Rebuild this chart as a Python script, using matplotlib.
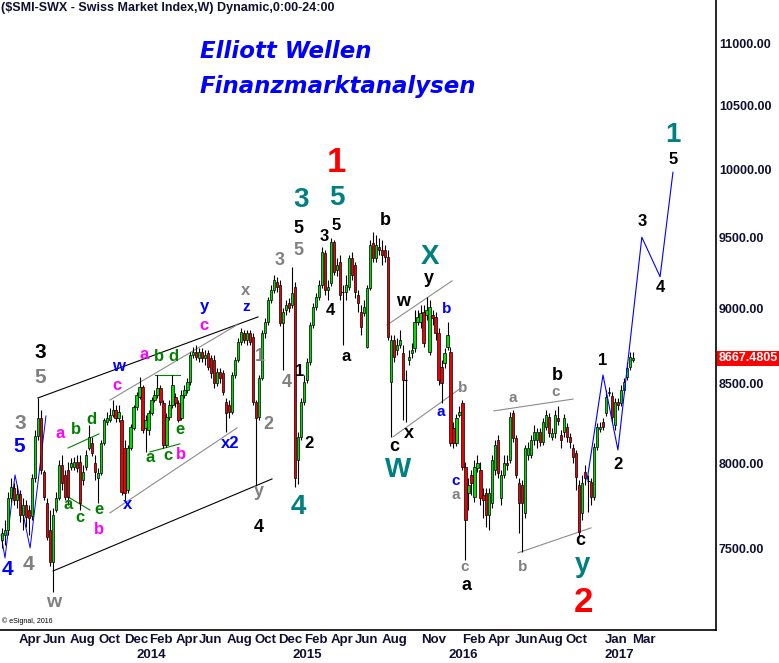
import numpy as np
import matplotlib.pyplot as plt
import matplotlib.transforms as mtransforms
from matplotlib.ticker import FixedLocator, NullLocator, FixedFormatter

plt.rcParams['font.family'] = ['Liberation Sans', 'DejaVu Sans']
plt.rcParams['font.weight'] = 'bold'

# weekly SMI candles, one per week
opens = [7552, 7580, 7609, 7796, 7855, 7784, 7819, 7696, 7755, 7725,
         7690, 7915, 8172, 8284, 7951, 7766, 7609, 7427, 7725, 7796,
         7994, 7933, 7963, 7981, 7981, 8012, 8012, 7903, 7981, 8097,
         8129, 8006, 7915, 7945, 8129, 8259, 8271, 8302, 8334, 8284,
         8271, 8097, 7843, 8097, 8221, 8353, 8416, 8480, 8221, 8209,
         8315, 8397, 8429, 8474, 8378, 8116, 8290, 8366, 8416, 8378,
         8284, 8429, 8461, 8513, 8689, 8709, 8669, 8709, 8669, 8702,
         8669, 8656, 8507, 8578, 8572, 8384, 8366, 8321, 8558, 8656,
         8775, 8835, 8788, 8835, 8808, 8384, 8290, 8539, 8835, 8909,
         9059, 9128, 9184, 9163, 8903, 8991, 9038, 9025, 9149, 8024,
         8166, 8384, 8526, 8643, 8889, 9011, 9080, 9163, 9388, 9128,
         9177, 9467, 9268, 9324, 9114, 9114, 9149, 9352, 9303, 9094,
         8977, 8970, 8742, 9142, 9460, 9352, 9431, 9409, 9409, 9359,
         8513, 8788, 8722, 8755, 8702, 8526, 8656, 8702, 8735, 8909,
         8909, 8977, 8957, 8709, 8957, 8943, 8835, 8610, 8636, 8742,
         8709, 8221, 8129, 8302, 8378, 7981, 7825, 7933, 7802, 7975,
         7963, 7814, 7825, 7696, 7766, 7963, 8147, 7796, 7933, 8006,
         8024, 8315, 8160, 7885, 7873, 7708, 8055, 8055, 8147, 8147,
         8197, 8135, 8228, 8290, 8166, 8190, 8284, 8178, 8197, 8228,
         8166, 8097, 8067, 7873, 7708, 7951, 7897, 7891, 7802, 8104,
         8215, 8259, 8315, 8442, 8423, 8240, 8384, 8378, 8461, 8545,
         8610, 8656]
highs = [7621, 7667, 7831, 7915, 7885, 7873, 7843, 7796, 7784, 7755,
         7939, 8209, 8410, 8334, 7963, 7796, 7725, 7737, 7831, 8024,
         8055, 7963, 8012, 8036, 8042, 8055, 8055, 7994, 8085, 8240,
         8166, 8055, 7975, 8147, 8284, 8321, 8347, 8397, 8366, 8366,
         8302, 8147, 8116, 8246, 8366, 8448, 8545, 8494, 8302, 8334,
         8416, 8461, 8558, 8494, 8397, 8315, 8397, 8558, 8442, 8397,
         8461, 8494, 8539, 8709, 8742, 8755, 8735, 8735, 8722, 8722,
         8689, 8689, 8604, 8604, 8591, 8410, 8397, 8578, 8676, 8801,
         8869, 8855, 8855, 8855, 8835, 8397, 8558, 8855, 8937, 9080,
         9163, 9233, 9219, 9198, 9005, 9059, 9073, 9289, 9184, 8197,
         8410, 8558, 8669, 8909, 9038, 9107, 9198, 9431, 9409, 9198,
         9495, 9481, 9352, 9374, 9163, 9233, 9374, 9395, 9324, 9128,
         9025, 9059, 9163, 9481, 9539, 9517, 9495, 9481, 9445, 9409,
         8822, 8822, 8801, 8855, 8755, 8591, 8722, 8768, 8991, 8991,
         9025, 9025, 9080, 9059, 8991, 8977, 8869, 8656, 8735, 8909,
         8742, 8259, 8309, 8359, 8397, 8012, 7915, 7963, 8024, 8055,
         8012, 7855, 7855, 7855, 8055, 8147, 8178, 7963, 8055, 8055,
         8321, 8334, 8178, 7915, 7903, 8116, 8135, 8178, 8240, 8221,
         8221, 8284, 8334, 8315, 8221, 8334, 8359, 8209, 8309, 8252,
         8190, 8122, 8085, 7903, 7933, 7994, 7933, 7915, 8129, 8252,
         8259, 8284, 8461, 8480, 8448, 8410, 8410, 8494, 8539, 8643,
         8709, 8709]
lows = [7506, 7523, 7580, 7772, 7755, 7737, 7655, 7609, 7626, 7580,
        7667, 7891, 8147, 7939, 7784, 7552, 7404, 7260, 7714, 7784,
        7843, 7784, 7755, 7963, 7963, 7951, 7725, 7873, 7963, 8085,
        8048, 7903, 7766, 7933, 8116, 8240, 8259, 8290, 8259, 8259,
        7814, 7784, 7825, 8085, 8209, 8334, 8403, 8190, 8073, 8178,
        8302, 8384, 8410, 8366, 8097, 8104, 8271, 8347, 8353, 8259,
        8271, 8410, 8442, 8494, 8669, 8656, 8643, 8643, 8623, 8591,
        8539, 8474, 8487, 8507, 8429, 8197, 8284, 8309, 8539, 8643,
        8755, 8768, 8755, 8755, 8366, 7873, 8271, 8526, 8801, 8889,
        9038, 9107, 9114, 8882, 8591, 8957, 8977, 9005, 7861, 7879,
        8147, 8366, 8507, 8623, 8869, 8991, 9059, 9142, 9094, 9059,
        9156, 9233, 9226, 9059, 8755, 9059, 9128, 9198, 9073, 8977,
        8822, 8950, 8735, 9128, 9324, 9324, 9374, 9303, 9324, 8788,
        8166, 8643, 8689, 8735, 8271, 8259, 8623, 8669, 8709, 8889,
        8869, 8742, 8923, 8689, 8889, 8788, 8494, 8378, 8604, 8722,
        8110, 8097, 8110, 8290, 7963, 7438, 7725, 7814, 7772, 7951,
        7755, 7679, 7626, 7609, 7737, 7933, 7915, 7755, 7915, 7963,
        8006, 8135, 7915, 7592, 7484, 7679, 8024, 8036, 8116, 8097,
        8110, 8116, 8209, 8166, 8147, 8160, 8240, 8097, 8166, 8135,
        8097, 8006, 7843, 7569, 7667, 7873, 7714, 7755, 7784, 8085,
        8197, 8209, 8296, 8423, 8259, 8209, 8334, 8359, 8442, 8526,
        8591, 8643]
closes = [7592, 7609, 7796, 7861, 7784, 7819, 7696, 7755, 7684, 7679,
          7915, 8172, 8284, 7963, 7802, 7569, 7427, 7696, 7796, 7994,
          7885, 7802, 7802, 8006, 8012, 7975, 7766, 7951, 8055, 8166,
          8067, 7951, 7945, 8129, 8271, 8284, 8302, 8334, 8284, 8321,
          7831, 7825, 8097, 8228, 8353, 8429, 8480, 8209, 8271, 8315,
          8397, 8429, 8474, 8384, 8116, 8290, 8366, 8494, 8378, 8271,
          8429, 8461, 8513, 8689, 8709, 8676, 8709, 8669, 8689, 8610,
          8572, 8507, 8578, 8539, 8448, 8315, 8321, 8558, 8656, 8775,
          8842, 8788, 8835, 8775, 8384, 8284, 8539, 8835, 8909, 9059,
          9128, 9198, 9149, 8903, 8977, 9025, 9005, 9107, 7915, 8166,
          8384, 8513, 8643, 8889, 9011, 9080, 9163, 9395, 9128, 9149,
          9467, 9254, 9303, 9094, 9114, 9163, 9352, 9233, 9114, 9038,
          8875, 9011, 9142, 9445, 9352, 9445, 9409, 9374, 9359, 8808,
          8788, 8676, 8755, 8788, 8526, 8526, 8676, 8722, 8909, 8943,
          8970, 8768, 8991, 9011, 8937, 8835, 8526, 8507, 8702, 8822,
          8129, 8129, 8284, 8321, 7981, 7667, 7873, 7885, 7981, 8006,
          7796, 7784, 7696, 7825, 8024, 8116, 7945, 7933, 8006, 7994,
          8290, 8160, 7933, 7766, 7766, 8097, 8097, 8147, 8197, 8197,
          8135, 8259, 8302, 8190, 8190, 8302, 8265, 8147, 8284, 8166,
          8135, 8042, 7921, 7598, 7885, 7915, 7897, 7802, 8104, 8228,
          8228, 8228, 8416, 8448, 8290, 8384, 8366, 8461, 8513, 8604,
          8676, 8667.4805]

# axis labels
y_ticks = [7500, 8000, 8500, 9000, 9500, 10000, 10500, 11000]
month_pos = [9.4, 17.7, 27.1, 35.8, 44.8, 53.2, 61.9, 69.9, 79.3, 88.0, 96.3,
             105.0, 113.7, 122.1, 131.4, 144.5, 157.9, 166.2, 175.3, 183.6, 192.3,
             205.4, 214.7]
month_labels = ['Apr', 'Jun', 'Aug', 'Oct', 'Dec', 'Feb', 'Apr', 'Jun', 'Aug', 'Oct', 'Dec',
                'Feb', 'Apr', 'Jun', 'Aug', 'Nov', 'Feb', 'Apr', 'Jun', 'Aug', 'Oct',
                'Jan', 'Mar']
year_pos = [49.8, 102.0, 154.2, 206.4]
year_labels = ['2014', '2015', '2016', '2017']

# channel / trend lines: (week0, price0, week1, price1, colour)
trend_lines = [
    (12.0, 8410, 85.6, 8943, 'black'),
    (17.1, 7376, 90.3, 7909, 'black'),
    (36.1, 8397, 78.6, 8889, '#8c8c8c'),
    (36.1, 7708, 78.6, 8221, '#8c8c8c'),
    (22.1, 8097, 32.4, 8184, '#008000'),
    (22.1, 7802, 29.4, 7725, '#008000'),
    (51.2, 8558, 59.5, 8558, '#008000'),
    (49.5, 8073, 59.5, 8122, '#008000'),
    (128.8, 8889, 150.5, 9191, '#8c8c8c'),
    (130.8, 8166, 153.5, 8474, '#8c8c8c'),
    (164.5, 8328, 191.0, 8403, '#8c8c8c'),
    (172.6, 7478, 197.0, 7621, '#8c8c8c'),
]
# blue paths
old_path_x = [-0.3, 1.0, 4.35, 9.4, 14.7]
old_path_p = [7580, 7449, 7933, 7506, 8296]
proj_x = [195.7, 201.0, 206.0, 214.0, 220.1, 224.4]
proj_p = [7903, 8558, 8085, 9500, 9220, 9980]

# Elliott wave counts: text, week, price, colour, size
BK, GR, BL, MG, GN, TL, RD = 'black', '#808080', '#0000ff', '#ff00ff', '#008000', '#008080', '#ff0000'
waves = [
    ('3', 6.0, 8246, GR, 15), ('5', 5.7, 8104, BL, 15), ('3', 12.7, 8702, BK, 15),
    ('5', 12.7, 8539, GR, 15), ('4', 1.7, 7382, BL, 15), ('4', 8.7, 7410, GR, 15),
    ('w', 17.1, 7200, GR, 14),
    ('a', 19.4, 8184, MG, 12), ('b', 24.7, 8209, GN, 12), ('d', 29.8, 8271, GN, 12),
    ('a', 22.1, 7755, GN, 12), ('c', 26.1, 7679, GN, 12), ('e', 32.4, 7725, GN, 12),
    ('b', 32.4, 7609, MG, 12), ('x', 42.1, 7755, BL, 12), ('c', 38.5, 8487, MG, 12),
    ('w', 38.8, 8610, BL, 12), ('a', 47.5, 8689, MG, 12), ('b', 52.5, 8682, GN, 12),
    ('d', 57.5, 8682, GN, 12), ('a', 49.5, 8036, GN, 12), ('c', 55.5, 8048, GN, 12),
    ('b', 59.9, 8055, MG, 12), ('e', 59.5, 8209, GN, 12), ('c', 67.6, 8882, MG, 12),
    ('y', 67.6, 9011, BL, 12), ('x', 81.6, 9121, GR, 12), ('z', 81.6, 9011, BL, 11),
    ('x2', 76.3, 8122, BL, 12),
    ('1', 86.3, 8682, GR, 13), ('4', 95.3, 8507, GR, 13), ('2', 89.0, 8240, GR, 13),
    ('y', 86.0, 7837, GR, 13), ('4', 86.0, 7621, BK, 13), ('3', 93.0, 9331, GR, 13),
    ('5', 99.0, 9402, GR, 13), ('5', 99.0, 9567, BK, 13), ('3', 100.0, 9773, TL, 20),
    ('4', 99.0, 7743, TL, 20), ('1', 99.7, 8578, BK, 12), ('2', 102.7, 8122, BK, 12),
    ('3', 107.7, 9503, BK, 12), ('5', 111.7, 9582, BK, 12), ('5', 112.0, 9788, TL, 20),
    ('1', 112.0, 10051, RD, 25), ('4', 109.7, 8984, BK, 12), ('a', 115.1, 8682, BK, 12),
    ('b', 128.1, 9625, BK, 13), ('w', 134.1, 9045, BK, 13), ('X', 143.1, 9359, TL, 20),
    ('y', 142.8, 9205, BK, 13), ('b', 148.8, 8998, BL, 11), ('c', 131.1, 8104, BK, 13),
    ('x', 136.1, 8184, BK, 13), ('W', 132.4, 7963, TL, 20), ('a', 146.8, 8321, BL, 11),
    ('b', 154.2, 8474, GR, 11), ('c', 151.8, 7897, BL, 11), ('a', 151.8, 7814, GR, 11),
    ('c', 154.8, 7399, GR, 11), ('a', 155.2, 7293, BK, 13), ('a', 170.9, 8410, GR, 11),
    ('b', 185.6, 8552, BK, 13), ('c', 185.3, 8448, GR, 11), ('b', 174.2, 7399, GR, 11),
    ('c', 193.3, 7546, BK, 13), ('y', 194.0, 7410, TL, 20), ('2', 194.3, 7200, RD, 25),
    ('1', 201.0, 8650, BK, 12), ('2', 206.0, 7999, BK, 12), ('3', 214.0, 9611, BK, 12),
    ('4', 220.1, 9142, BK, 12), ('5', 224.4, 10074, BK, 12), ('1', 224.4, 10267, TL, 20),
]

fig = plt.figure(figsize=(7.79, 6.63), dpi=100)
ax = fig.add_axes([0, 33 / 663, 716 / 779, 630 / 663])

x = np.arange(len(closes))
o = np.array(opens, dtype=float)
h = np.array(highs, dtype=float)
l = np.array(lows, dtype=float)
c = np.array(closes, dtype=float)
up = c > o
dn = c < o
flat = c == o

# wicks and bodies
ax.vlines(x, l, h, color='black', lw=0.8, zorder=2)
ax.bar(x[up], c[up] - o[up], bottom=o[up], width=0.75, color='#00dd00',
       edgecolor='black', linewidth=0.5, zorder=3)
ax.bar(x[dn], o[dn] - c[dn], bottom=c[dn], width=0.75, color='#ee0000',
       edgecolor='black', linewidth=0.5, zorder=3)
ax.hlines(c[flat], x[flat] - 0.5, x[flat] + 0.5, color='black', lw=0.8, zorder=3)

for x0, p0, x1, p1, col in trend_lines:
    ax.plot([x0, x1], [p0, p1], color=col, lw=0.8, zorder=1)
ax.plot(old_path_x, old_path_p, color='#0000ff', lw=0.7, zorder=1)
ax.plot(proj_x, proj_p, color='#0000ff', lw=0.8, zorder=4)

for txt, wx, wp, col, size in waves:
    ax.text(wx, wp, txt, color=col, fontsize=size, ha='center', va='center', zorder=5)

ax.set_yscale('log')
ax.set_ylim(7053, 11373)
ax.set_xlim(-0.67, 238.8)

ax.yaxis.tick_right()
ax.yaxis.set_major_locator(FixedLocator(y_ticks))
ax.yaxis.set_major_formatter(FixedFormatter(['%.2f' % v for v in y_ticks]))
ax.yaxis.set_minor_locator(NullLocator())
ax.tick_params(axis='y', which='both', length=0, pad=2, labelsize=9, labelcolor='#101030')

ax.xaxis.set_major_locator(FixedLocator(month_pos))
ax.xaxis.set_major_formatter(FixedFormatter(month_labels))
ax.xaxis.set_minor_locator(FixedLocator(year_pos))
ax.xaxis.set_minor_formatter(FixedFormatter(year_labels))
ax.tick_params(axis='x', which='major', length=0, pad=3, labelsize=9.5, labelcolor='#101030')
ax.tick_params(axis='x', which='minor', length=0, pad=14, labelsize=9.5, labelcolor='#101030')

for side in ['left', 'top']:
    ax.spines[side].set_visible(False)
for side in ['right', 'bottom']:
    ax.spines[side].set_linewidth(1.2)

# texts
ax.text(0.001, 1 - 8 / 630, '($SMI-SWX - Swiss Market Index,W) Dynamic,0:00-24:00',
        transform=ax.transAxes, ha='left', va='center', fontsize=9, color='#101030')
fig.text(200 / 779, 1 - 52 / 663, 'Elliott Wellen', color='#0000ff', fontsize=16.5,
         family='DejaVu Sans', style='italic', weight='bold', ha='left', va='center')
fig.text(200 / 779, 1 - 86 / 663, 'Finanzmarktanalysen', color='#0000ff', fontsize=16.5,
         family='DejaVu Sans', style='italic', weight='bold', ha='left', va='center')
fig.text(2 / 779, 1 - 621 / 663, '\u00a9 eSignal, 2016', fontsize=5, weight='normal',
         ha='left', va='center')

trans = mtransforms.blended_transform_factory(ax.transAxes, ax.transData)
ax.text(1.003, closes[-1], '%.4f' % closes[-1], transform=trans, ha='left', va='center',
        color='white', fontsize=9,
        bbox=dict(boxstyle='square,pad=0.12', facecolor='#ff0000', edgecolor='none'))

fig.savefig('out.png', dpi=100)
